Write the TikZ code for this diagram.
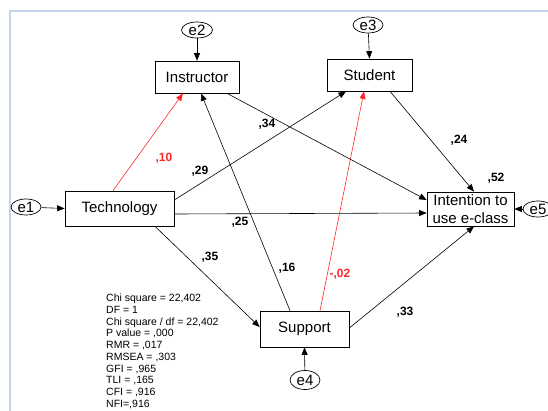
\documentclass[tikz,border=0pt]{standalone}
\usepackage{fontspec}
\setmainfont{Liberation Sans}
\usetikzlibrary{arrows.meta,shapes.geometric}
\definecolor{framecol}{RGB}{196,214,238}
\definecolor{pathred}{RGB}{255,40,40}
\begin{document}
\begin{tikzpicture}[x=1pt,y=-1pt,
  var/.style={draw,line width=0.7pt,fill=white,inner sep=0pt,font=\fontsize{15}{17.5}\selectfont},
  err/.style={draw,ellipse,line width=0.7pt,fill=white,inner sep=0pt,font=\fontsize{15}{17}\selectfont},
  path/.style={line width=0.6pt,-{Triangle[length=7.5pt,width=6pt]}},
  redpath/.style={path,draw=pathred},
  coef/.style={font=\fontsize{12}{14}\selectfont\bfseries,inner sep=0pt},
  redcoef/.style={coef,text=pathred}]
\useasboundingbox (0,0) rectangle (548,410);
\clip (0,0) rectangle (548,410);
% frame of the canvas
\draw[framecol,line width=2pt] (10,420) -- (10,11) -- (560,11);

% observed variables
\node[var,minimum width=84pt,minimum height=32pt] (inst) at (197,77) {Instructor};
\node[var,minimum width=85pt,minimum height=32pt] (stud) at (369.5,75) {Student};
\node[var,minimum width=109pt,minimum height=35pt] (tech) at (119.5,208.5) {Technology};
\node[var,minimum width=87pt,minimum height=34pt,align=center] (intent) at (470.5,209) {Intention to\\use e-class};
\node[var,minimum width=89pt,minimum height=36pt] (supp) at (304.5,329) {Support};

% error terms
\node[err,minimum width=30pt,minimum height=16pt] (e1) at (26,207) {e1};
\node[err,minimum width=31pt,minimum height=16pt] (e2) at (197,30) {e2};
\node[err,minimum width=30pt,minimum height=16pt] (e3) at (368,25) {e3};
\node[err,minimum width=30pt,minimum height=19pt] (e4) at (305,380) {e4};
\node[err,minimum width=30pt,minimum height=16pt] (e5) at (538,209) {e5};

% error paths
\draw[path] (e1) -- (tech.west);
\draw[path] (e2) -- (inst.north);
\draw[path] (e3) -- (stud.north);
\draw[path] (e4) -- (supp.south);
\draw[path] (e5) -- (intent.east);

% structural paths
\draw[redpath] ([xshift=-6.5pt]tech.north) -- ([xshift=-14pt]inst.south);
\draw[path] ([yshift=8.5pt]tech.east) -- ([xshift=-23.5pt]stud.south);
\draw[path] ([yshift=-5.5pt]tech.east) -- ([yshift=-4pt]intent.west);
\draw[path] ([xshift=35.5pt]tech.south) -- ([yshift=2pt]supp.west);
\draw[path] ([xshift=-14.5pt]supp.north) -- ([xshift=4pt]inst.south);
\draw[redpath] ([xshift=15.5pt]supp.north) -- ([xshift=-5.5pt]stud.south);
\draw[path] ([yshift=1pt]supp.east) -- ([xshift=3.5pt]intent.south);
\draw[path] ([xshift=30pt]inst.south) -- ([yshift=9pt]intent.west);
\draw[path] ([xshift=20.5pt]stud.south) -- ([xshift=3.5pt]intent.north);

% coefficients
\node[redcoef] (c10) at (164,158) {,10};
\node[coef] (c29) at (200,171) {,29};
\node[coef] (c34) at (267,124) {,34};
\node[coef] (c24) at (459,140) {,24};
\node[coef] (c52) at (496,178) {,52};
\node[coef] (c25) at (240,222) {,25};
\node[coef] (c35) at (210,257) {,35};
\node[coef] (c16) at (287,268) {,16};
\node[redcoef] (c02) at (340,274) {-,02};
\node[coef] (c33) at (405,312) {,33};

% fit statistics
\node[anchor=north west,inner sep=0pt,align=left,font=\fontsize{10.5}{11.7}\selectfont] (fit) at (106,294)
{Chi square = 22,402\\DF = 1\\Chi square / df = 22,402\\P value = ,000\\RMR = ,017\\RMSEA = ,303\\GFI = ,965\\TLI = ,165\\CFI = ,916\\NFI=,916};
\end{tikzpicture}
\end{document}
